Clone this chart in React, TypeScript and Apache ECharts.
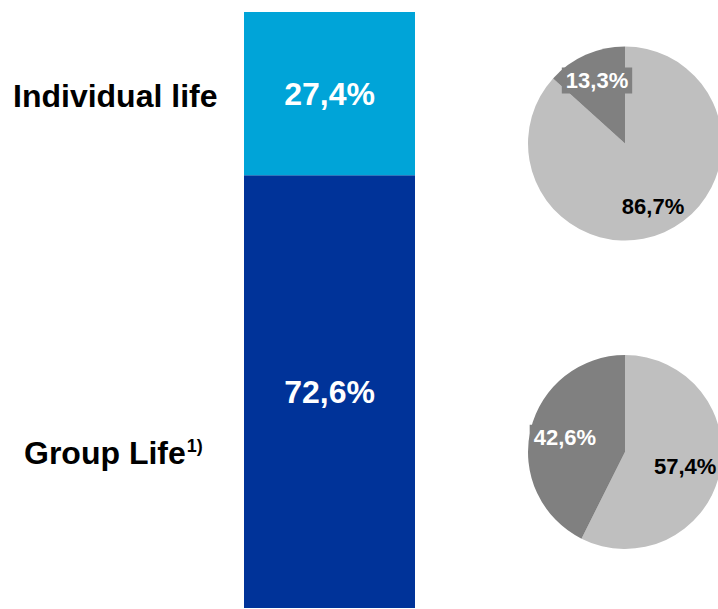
import React, { useEffect, useRef } from "react";
import * as echarts from "echarts";

// Business split (stacked bar) and the share within each line (pies)
const segmentNames = ["Individual life", "Group Life"];
const segmentShares = [27.4, 72.6];
const segmentColors = ["#00a4d8", "#003399"];
const pieSliceNames = ["Share A", "Share B"];
const pieIndividual = [86.7, 13.3];
const pieGroup = [57.4, 42.6];
const pieColors = ["#bfbfbf", "#808080"];
const pieLabelColors = ["#000000", "#ffffff"];

const W = 718;
const H = 609;
const FONT = "'Liberation Sans', Arial, sans-serif";

const fmt = (v: number) => v.toFixed(1).replace(".", ",") + "%";

function pieSeries(values: number[], cx: number, cy: number, radius: number, labelReach: number) {
  return {
    type: "pie",
    center: [cx, cy],
    radius: radius,
    startAngle: 90,
    clockwise: true,
    silent: true,
    label: {
      show: true,
      position: "inside",
      fontFamily: FONT,
      fontSize: 22,
      fontWeight: "bold",
      formatter: (p: any) => fmt(p.value),
    },
    labelLine: { show: false },
    // push the inside labels further out from the centre
    labelLayout: (params: any) => {
      const r = params.labelRect;
      const lx = r.x + r.width / 2;
      const ly = r.y + r.height / 2;
      return { x: cx + (lx - cx) * labelReach, y: cy + (ly - cy) * labelReach };
    },
    data: values.map((v, i) => ({
      name: pieSliceNames[i],
      value: v,
      itemStyle: { color: pieColors[i] },
      label: {
        color: pieLabelColors[i],
        backgroundColor: i === 1 ? pieColors[1] : "transparent",
        padding: [2, 4],
      },
    })),
  };
}

export default function App() {
  const ref = useRef<HTMLDivElement>(null);

  useEffect(() => {
    if (!ref.current) return;
    const chart = echarts.init(ref.current, undefined, { renderer: "svg" });

    // stacking starts at the bottom, so the group line goes first
    const order = [1, 0];
    const barSeries = order.map((idx) => ({
      type: "bar",
      name: segmentNames[idx],
      stack: "mix",
      barWidth: "100%",
      silent: true,
      itemStyle: { color: segmentColors[idx] },
      label: {
        show: true,
        position: "inside",
        color: "#ffffff",
        fontFamily: FONT,
        fontSize: 32,
        fontWeight: "bold",
        formatter: (p: any) => fmt(p.value),
      },
      data: [segmentShares[idx]],
    }));

    chart.setOption({
      animation: false,
      backgroundColor: "#ffffff",
      grid: { left: 244, top: 12, width: 171, height: 596 },
      xAxis: {
        type: "category",
        data: ["Mix"],
        show: false,
      },
      yAxis: { type: "value", min: 0, max: 100, show: false },
      graphic: [
        {
          type: "text",
          left: 13,
          top: 80,
          style: {
            text: segmentNames[0],
            font: `bold 32px ${FONT}`,
            fill: "#000000",
          },
        },
        {
          type: "text",
          left: 24,
          top: 437,
          style: {
            text: `${segmentNames[1]}{sup|1)}`,
            font: `bold 32px ${FONT}`,
            fill: "#000000",
            rich: {
              sup: {
                fontFamily: FONT,
                fontWeight: "bold",
                fontSize: 18,
                fill: "#000000",
                verticalAlign: "top",
                padding: [0, 0, 12, 1],
              },
            },
          },
        },
      ],
      series: [
        ...barSeries,
        pieSeries(pieIndividual, 625, 143.5, 97, 1.34),
        pieSeries(pieGroup, 625, 452, 97, 1.2),
      ],
    });

    return () => chart.dispose();
  }, []);

  return (
    <div
      ref={ref}
      style={{ position: "absolute", left: 0, top: 0, width: W, height: H }}
    />
  );
}
